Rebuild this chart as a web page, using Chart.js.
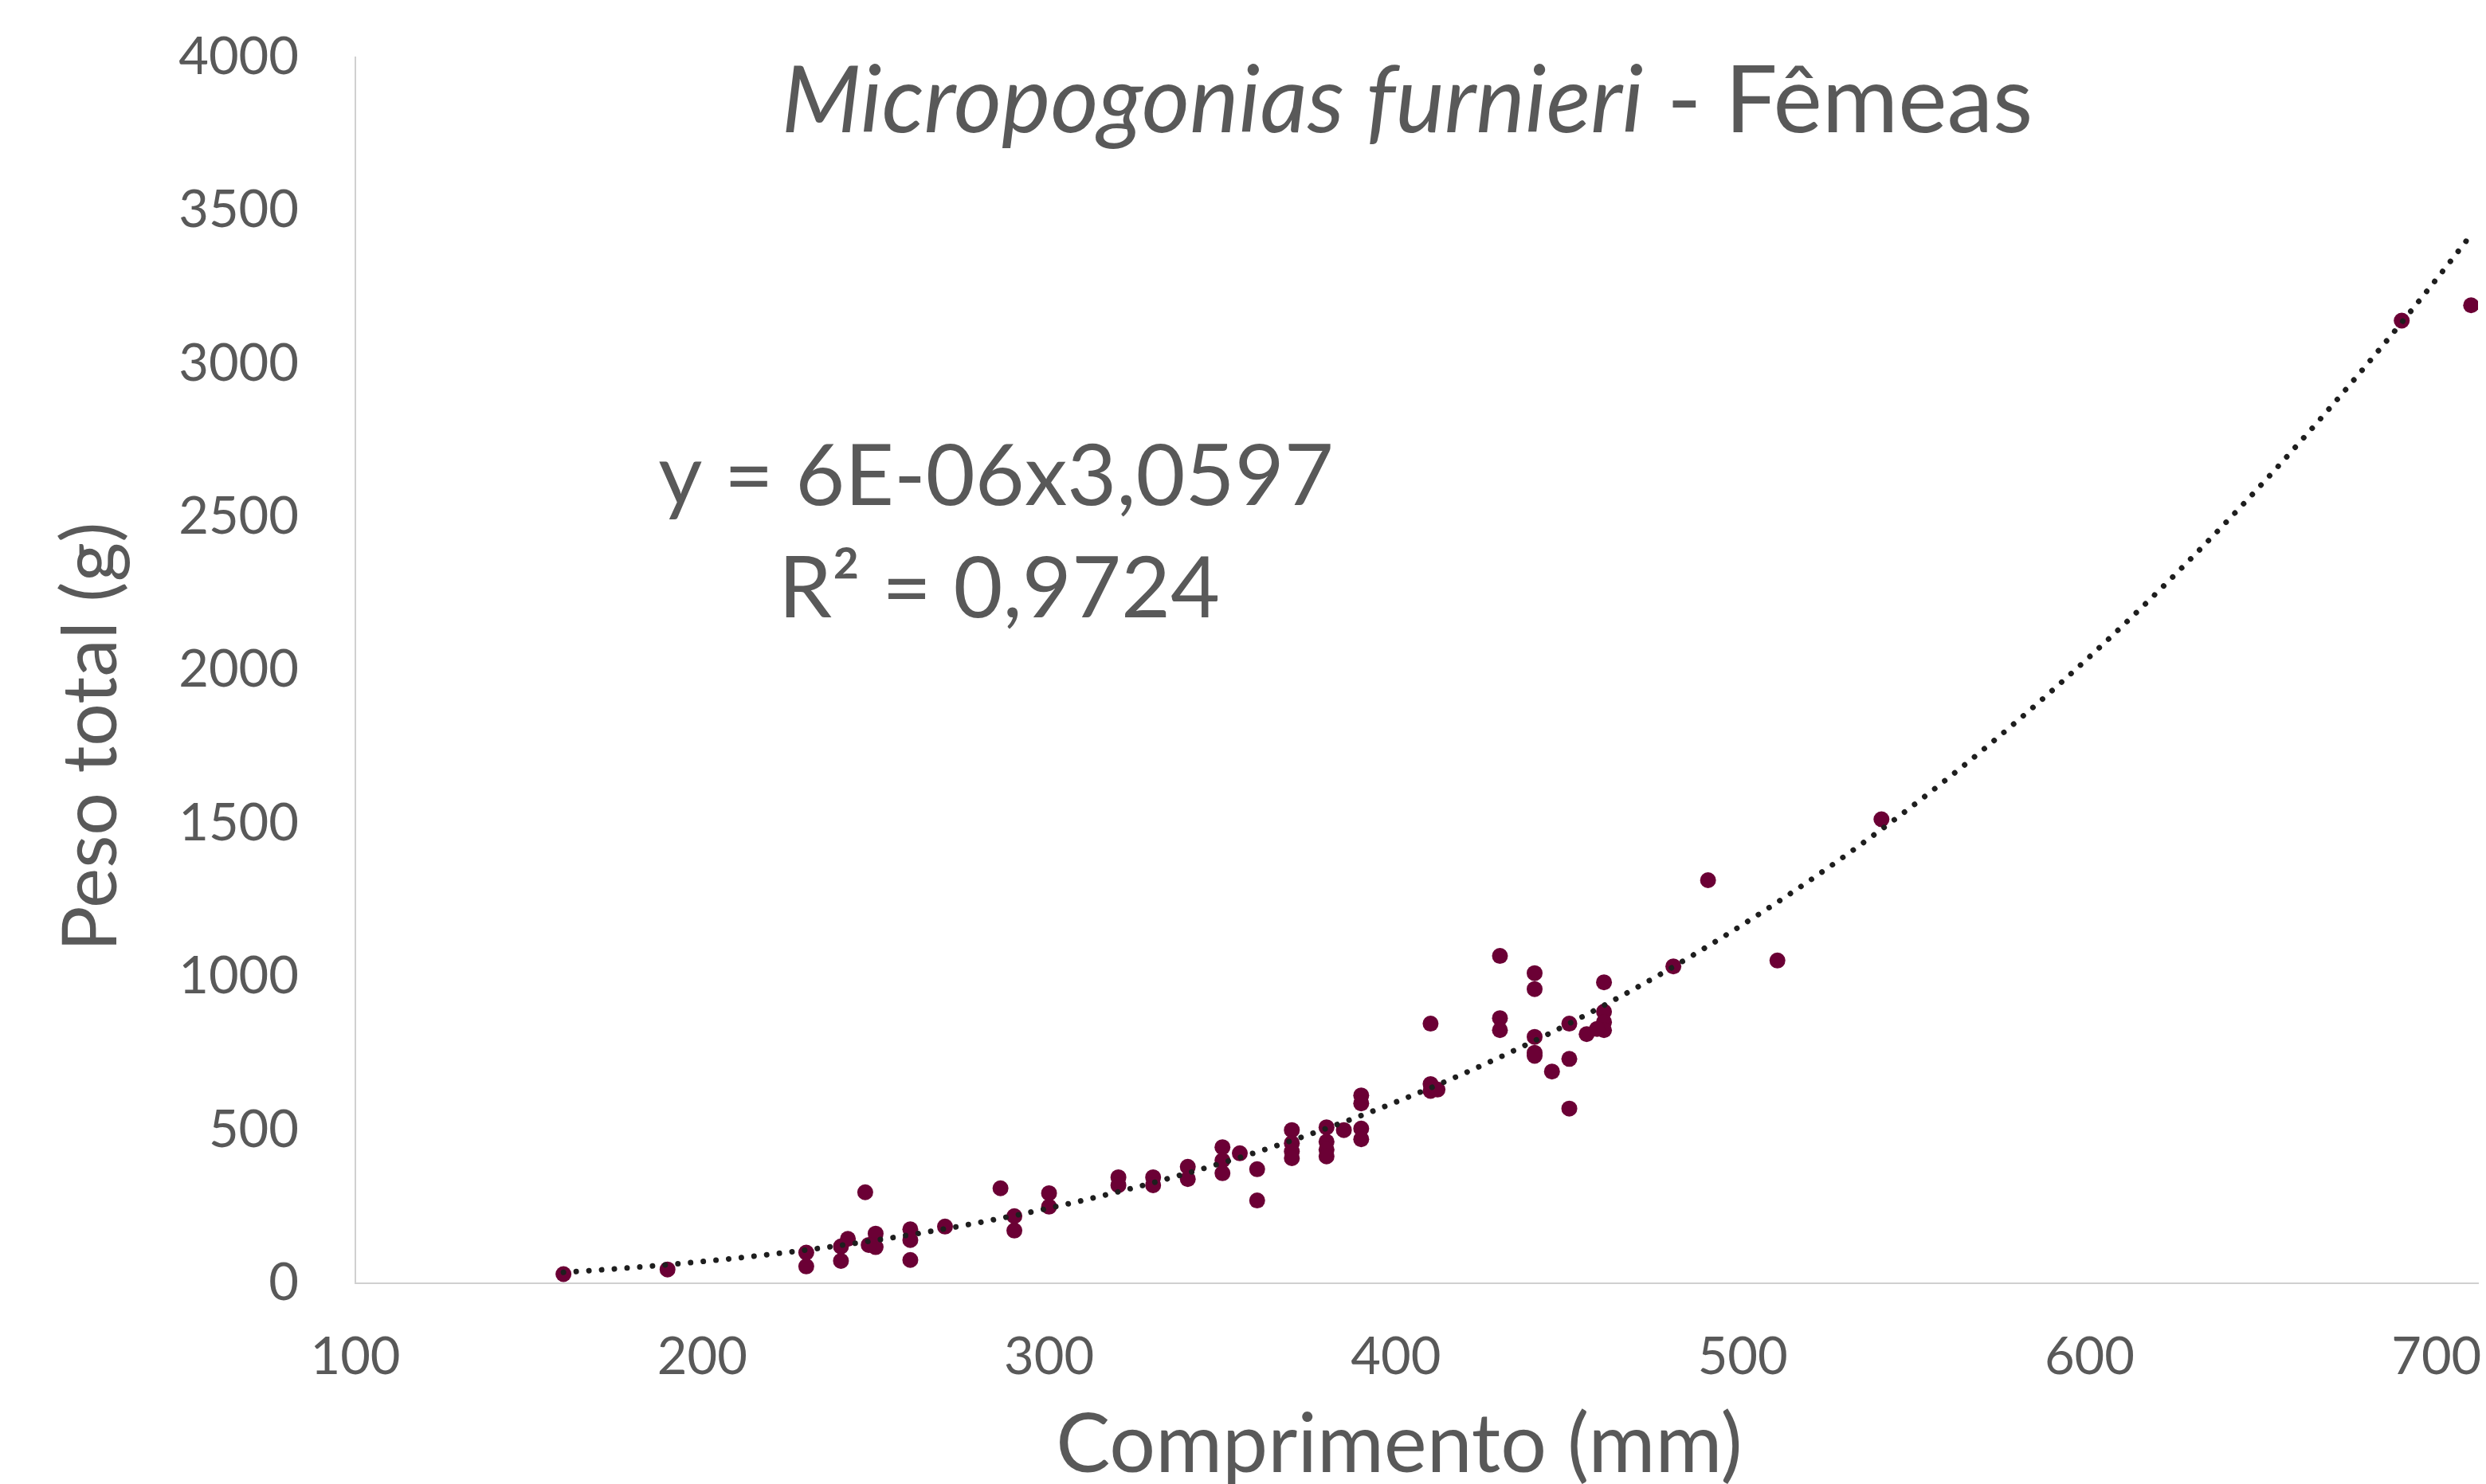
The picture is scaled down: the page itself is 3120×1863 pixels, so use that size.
<!DOCTYPE html>
<html>
<head>
<meta charset="utf-8">
<script src="https://cdn.jsdelivr.net/npm/chart.js@4.4.0/dist/chart.umd.min.js"></script>
<style>
  html, body { margin: 0; padding: 0; background: #ffffff; overflow: hidden; }
  #wrap { width: 3120px; height: 1863px; position: relative; }
</style>
</head>
<body>
<div id="wrap"><canvas id="c" width="3120" height="1863"></canvas></div>
<script>
// ---- Data ----
const comprimento = [
  160, 190, 230, 230, 240, 240, 242, 247, 250, 250, 248, 260, 260, 260, 270, 286, 290, 290,
  300, 300, 320, 320, 330, 330, 340, 340, 350, 350, 350, 355, 360, 360,
  370, 370, 370, 370, 380, 380, 380, 380, 385, 390, 390, 390, 390,
  410, 410, 412, 410, 430, 430, 430, 440, 440, 440, 440, 440, 445,
  450, 450, 450, 455, 460, 460, 460, 460, 458, 480, 490, 510, 540, 690, 710
];
const peso = [
  30, 45, 100, 55, 120, 73, 145, 297, 162, 118, 125, 176, 141, 76, 185, 310, 219, 172,
  294, 250, 346, 320, 346, 320, 380, 340, 444, 401, 359, 424, 372, 270,
  500, 457, 430, 408, 509, 462, 436, 414, 500, 613, 587, 505, 470,
  650, 628, 632, 847, 1068, 865, 826, 1012, 960, 804, 752, 742, 691,
  847, 732, 570, 813, 982, 886, 852, 826, 830, 1034, 1315, 1053, 1514, 3141, 3191
];
const xTickValues = [100, 200, 300, 400, 500, 600, 700];
const yTickValues = [0, 500, 1000, 1500, 2000, 2500, 3000, 3500, 4000];

// Power trendline shown in the chart: y = a * x^b
const trendA = 6.46e-6;   // displayed rounded as 6E-06
const trendB = 3.0597;
const equationText = 'y = 6E-06x3,0597';
const r2Text = 'R\u00B2 = 0,9724';
const titleItalic = 'Micropogonias furnieri';
const titleNormal = ' - F\u00EAmeas';
const xTitle = 'Comprimento (mm)';
const yTitle = 'Peso total (g)';

const scatterData = comprimento.map((x, i) => ({ x: x, y: peso[i] }));
const xMinData = Math.min(...comprimento);
const xMaxData = Math.max(...comprimento);
const trendData = [];
for (let x = xMinData; x <= xMaxData; x += 2) {
  trendData.push({ x: x, y: trendA * Math.pow(x, trendB) });
}

const TEXT = '#595959';
const FONT = 'Lato, "Open Sans", sans-serif';

const textPlugin = {
  id: 'texts',
  afterDraw(chart) {
    const ctx = chart.ctx;
    ctx.save();
    ctx.fillStyle = TEXT;
    ctx.textBaseline = 'alphabetic';
    // Title with mixed styles
    const fi = 'italic 116px ' + FONT;
    const fn = '116px ' + FONT;
    ctx.font = fi; const w1 = ctx.measureText(titleItalic).width;
    ctx.font = fn; const w2 = ctx.measureText(titleNormal).width;
    const tx = 1766 - (w1 + w2) / 2;
    ctx.textAlign = 'left';
    ctx.font = fi; ctx.fillText(titleItalic, tx, 166);
    ctx.font = fn; ctx.fillText(titleNormal, tx + w1, 166);
    // Equation
    ctx.textAlign = 'center';
    ctx.font = '107px ' + FONT;
    ctx.fillText(equationText, 1250, 634);
    ctx.fillText(r2Text, 1254, 775);
    // Axis titles
    ctx.textBaseline = 'middle';
    ctx.font = '102px ' + FONT;
    ctx.fillText(xTitle, 1756, 1815);
    ctx.save();
    ctx.translate(115, 925);
    ctx.rotate(-Math.PI / 2);
    ctx.font = '95px ' + FONT;
    ctx.fillText(yTitle, 0, 0);
    ctx.restore();
    ctx.restore();
  }
};

function build() {
  new Chart(document.getElementById('c'), {
    type: 'scatter',
    data: {
      datasets: [
        {
          label: 'Tendência',
          data: trendData,
          showLine: true,
          pointRadius: 0,
          borderColor: '#1e1e1e',
          borderWidth: 7,
          borderDash: [0.001, 16],
          borderCapStyle: 'round',
          fill: false,
          order: 0
        },
        {
          label: 'Fêmeas',
          data: scatterData,
          pointRadius: 10,
          pointHoverRadius: 10,
          pointBorderWidth: 0,
          backgroundColor: '#6b0035',
          borderColor: '#6b0035',
          order: 1
        }
      ]
    },
    options: {
      responsive: false,
      devicePixelRatio: 1,
      animation: false,
      layout: { padding: { top: 72, right: 0, left: 0, bottom: 0 } },
      plugins: {
        legend: { display: false },
        tooltip: { enabled: false },
        title: { display: false }
      },
      scales: {
        x: {
          type: 'linear',
          min: 100,
          max: 712,
          afterBuildTicks(scale) { scale.ticks = xTickValues.map(v => ({ value: v })); },
          afterFit(scale) { scale.height = 252; scale.paddingLeft = 0; scale.paddingRight = 0; },
          grid: { display: false, drawTicks: false },
          border: { display: true, color: '#d0d0d0', width: 2 },
          ticks: { color: TEXT, font: { family: FONT, size: 65 }, padding: 54, maxRotation: 0, autoSkip: false,
                   callback: v => String(v) },
          title: { display: false }
        },
        y: {
          type: 'linear',
          min: 0,
          max: 4000,
          afterBuildTicks(scale) { scale.ticks = yTickValues.map(v => ({ value: v })); },
          afterFit(scale) { scale.width = 446; scale.paddingTop = 0; scale.paddingBottom = 0; },
          grid: { display: false, drawTicks: false },
          border: { display: true, color: '#d0d0d0', width: 2 },
          ticks: { color: TEXT, font: { family: FONT, size: 65 }, padding: 71, callback: v => String(v) },
          title: { display: false }
        }
      }
    },
    plugins: [textPlugin]
  });
}

if (document.fonts && document.fonts.load) {
  Promise.all([
    document.fonts.load('100px Lato'),
    document.fonts.load('italic 100px Lato')
  ]).then(build, build);
} else {
  build();
}
</script>
</body>
</html>
